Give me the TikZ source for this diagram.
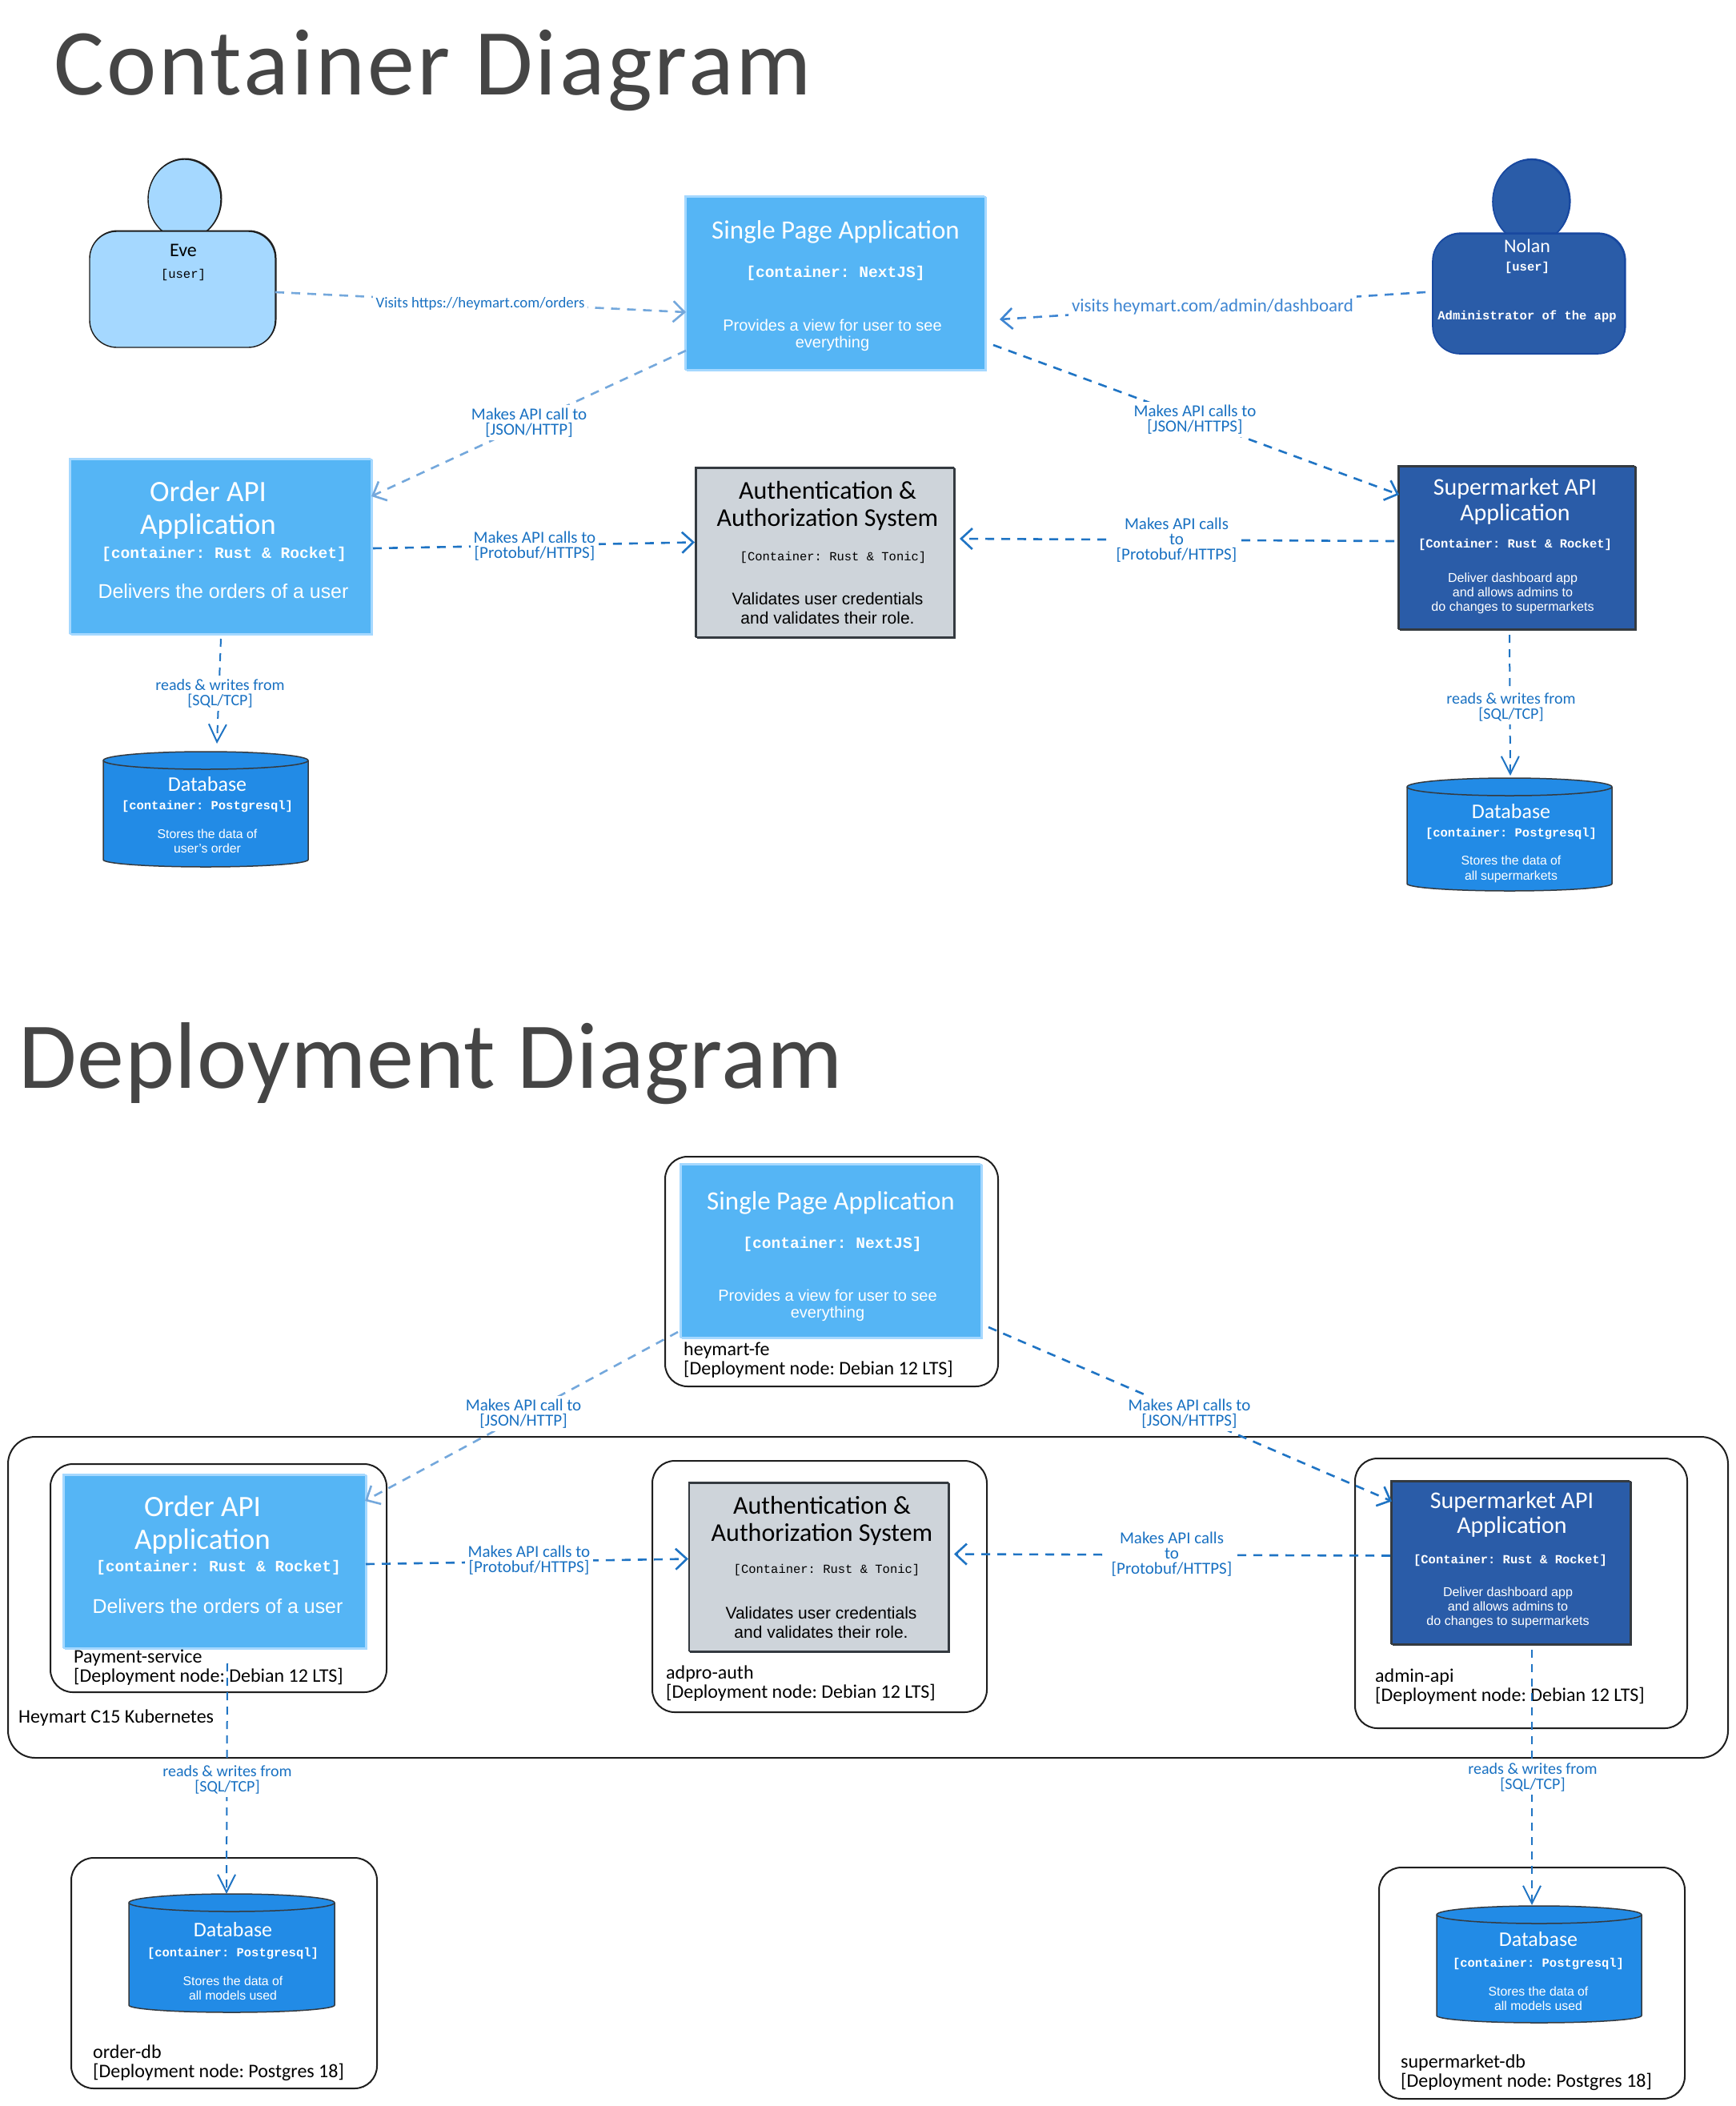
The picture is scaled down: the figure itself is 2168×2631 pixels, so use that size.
\documentclass[tikz,border=0pt]{standalone}
\usepackage{fontspec}
\usetikzlibrary{arrows.meta,shapes.geometric}
\setmainfont{Liberation Sans}
\newfontfamily\handf{Carlito}
\newfontfamily\monof{Liberation Mono}
\frenchspacing
\definecolor{evefill}{HTML}{A5D8FF}
\definecolor{spafill}{HTML}{55B5F5}
\definecolor{spaedge}{HTML}{A5D8FF}
\definecolor{authfill}{HTML}{CED4DA}
\definecolor{darkedge}{HTML}{343A40}
\definecolor{superfill}{HTML}{2A5CA8}
\definecolor{nolanedge}{HTML}{1848A0}
\definecolor{dbfill}{HTML}{228BE6}
\definecolor{inkc}{HTML}{1E1E1E}
\definecolor{titlec}{HTML}{454545}
\definecolor{lblc}{HTML}{1971C2}
\definecolor{arrowa}{HTML}{74A8DC}
\definecolor{arrowb}{HTML}{3F86D2}
\definecolor{arrowc}{HTML}{1F74C4}
\newcommand\fsz[1]{\fontsize{#1}{#1}\selectfont}
\newcommand\bx[6]{%
  \pgfmathsetmacro\bX{(#3+#5)/2}\pgfmathsetmacro\bY{(#4+#6)/2}%
  \pgfmathsetmacro\bW{#5-#3}\pgfmathsetmacro\bH{#6-#4}%
  \node[#2,minimum width=\bW pt,minimum height=\bH pt] (#1) at (\bX,\bY) {};}
\newcommand\tx[5]{\node[#4] (#1) at (#2,#3) {#5};}
% cylinder: invisible named node plus outline
\newcommand\dbx[5]{%
  \bx{#1}{plainbox}{#2}{#3}{#4}{#5}%
  \pgfmathsetmacro\bR{(#4-#2)/2}%
  \draw[dbshape] ([yshift=-11pt]#1.north west) arc[x radius=\bR pt,y radius=11pt,start angle=180,end angle=0]
    -- ([yshift=9pt]#1.south east) arc[x radius=\bR pt,y radius=9pt,start angle=0,end angle=-180] -- cycle;
  \draw[darkedge,line width=1.5pt] ([yshift=-11pt]#1.north west) arc[x radius=\bR pt,y radius=11pt,start angle=180,end angle=360];}
\tikzset{
  plainbox/.style={rectangle,inner sep=0pt,outer sep=0pt},
  wob/.style={preaction={draw,transform canvas={xshift=1.2pt,yshift=-1pt}},preaction={draw,transform canvas={xshift=-1.2pt,yshift=1pt}}},
  spabox/.style={plainbox,fill=spafill,draw=spaedge,line width=1.1pt,wob},
  authbox/.style={plainbox,fill=authfill,draw=darkedge,line width=1.4pt,wob},
  superbox/.style={plainbox,fill=superfill,draw=darkedge,line width=1.1pt,wob},
  nodebox/.style={plainbox,draw=inkc,line width=2pt,rounded corners=28pt},
  outerbox/.style={plainbox,draw=inkc,line width=2pt,rounded corners=34pt},
  evebody/.style={plainbox,fill=evefill,draw=inkc,line width=1.4pt,rounded corners=34pt,wobb},
  nolanbody/.style={plainbox,fill=superfill,draw=nolanedge,line width=1.6pt,rounded corners=34pt,wobb},
  wobb/.style={preaction={draw,transform canvas={xshift=.8pt,yshift=.8pt}}},
  evehead/.style={ellipse,inner sep=0pt,outer sep=0pt,fill=evefill,draw=inkc,line width=1.4pt,wobb},
  nolanhead/.style={ellipse,inner sep=0pt,outer sep=0pt,fill=superfill,draw=nolanedge,line width=1.6pt,wobb},
  dbshape/.style={fill=dbfill,draw=darkedge,line width=1.5pt},
  flow/.style={-{Straight Barb[length=14pt,width=26pt,line width=2.6pt]},line width=2.6pt,dash pattern=on 11pt off 9pt},
  thinflow/.style={-{Straight Barb[length=22pt,width=22pt,line width=2pt]},line width=2pt,dash pattern=on 10pt off 8pt},
  lbl/.style={font=\handf\fontsize{21}{19}\selectfont,text=lblc,align=center,fill=white,inner sep=4pt},
  rlbl/.style={lbl,font=\handf\fontsize{20}{19}\selectfont},
  title/.style={text=titlec,anchor=west,inner sep=0pt},
  white text/.style={text=white,align=center,inner sep=0pt},
  black text/.style={text=black,align=center,inner sep=0pt},
  dep/.style={font=\handf\fontsize{24}{24}\selectfont,text=black,anchor=west,inner sep=0pt},
}
\begin{document}
\begin{tikzpicture}[x=1pt,y=-1pt]
\useasboundingbox (0,0) rectangle (2168,2631);
\fill[white] (0,0) rectangle (2168,2631);

% ---------- titles
\tx{titleA}{67}{88}{title,font=\handf\addfontfeature{LetterSpace=2.8}\fontsize{118}{118}\selectfont}{Container Diagram}
\tx{titleB}{23}{1329}{title,font=\handf\addfontfeature{LetterSpace=0.7}\fontsize{118}{118}\selectfont}{Deployment Diagram}

% ---------- container diagram
\node[evehead,minimum width=91pt,minimum height=100pt] (evehd) at (230.5,249) {};
\bx{eve}{evebody}{112}{289}{344}{434}
\node[nolanhead,minimum width=96pt,minimum height=105pt] (nolanhd) at (1913,252) {};
\bx{nolan}{nolanbody}{1790}{292}{2030}{442}
\bx{spa}{spabox}{857}{246}{1231}{462}
\bx{order}{spabox}{88}{574}{464}{792}
\bx{auth}{authbox}{870}{585}{1192}{796}
\bx{super}{superbox}{1748}{583}{2043}{786}
\dbx{dba}{129}{939}{385}{1083}
\dbx{dbb}{1758}{972}{2014}{1113}

\tx{eveN}{229}{313}{black text,font=\handf\fsz{24}}{Eve}
\tx{eveT}{229}{343}{black text,font=\monof\fsz{15.5}}{[user]}
\tx{nolN}{1908}{307}{white text,font=\handf\fsz{24}}{Nolan}
\tx{nolT}{1908}{334}{white text,font=\monof\bfseries\fsz{15.5}}{[user]}
\tx{nolD}{1908}{395}{white text,font=\monof\bfseries\fsz{15.5}}{Administrator of the app}

\tx{spaN}{1044}{290}{white text,font=\handf\fsz{33}}{Single Page Application}
\tx{spaT}{1044}{341}{white text,font=\monof\bfseries\fsz{19.6}}{[container: NextJS]}
\tx{spaD}{1040}{419}{white text,font=\fontsize{20}{21.5}\selectfont}{Provides a view for user to see\\everything}

\tx{ordN}{260}{637}{white text,font=\handf\fontsize{37}{40.5}\selectfont}{Order API\\Application}
\tx{ordT}{280}{692}{white text,font=\monof\bfseries\fsz{19.6}}{[container: Rust \& Rocket]}
\tx{ordD}{279}{739}{white text,font=\fsz{24.9}}{Delivers the orders of a user}

\tx{autN}{1034}{632}{black text,font=\handf\fontsize{32}{33.5}\selectfont}{Authentication \&\\Authorization System}
\tx{autT}{1041}{696}{black text,font=\monof\fsz{15.5}}{[Container: Rust \& Tonic]}
\tx{autD}{1034}{760}{black text,font=\fontsize{21}{24}\selectfont}{Validates user credentials\\and validates their role.}

\tx{supN}{1893}{626}{white text,font=\handf\fontsize{30}{32}\selectfont}{Supermarket API\\Application}
\tx{supT}{1893}{680}{white text,font=\monof\bfseries\fsz{15.5}}{[Container: Rust \& Rocket]}
\tx{supD}{1890}{741}{white text,font=\fontsize{16.1}{18}\selectfont}{Deliver dashboard app\\and allows admins to\\do changes to supermarkets}

\tx{dbaN}{259}{980}{white text,font=\handf\fsz{26}}{Database}
\tx{dbaT}{259}{1008}{white text,font=\monof\bfseries\fsz{15.5}}{[container: Postgresql]}
\tx{dbaD}{259}{1051}{white text,font=\fontsize{15.8}{18.5}\selectfont}{Stores the data of\\user's order}
\tx{dbbN}{1888}{1014}{white text,font=\handf\fsz{26}}{Database}
\tx{dbbT}{1888}{1042}{white text,font=\monof\bfseries\fsz{15.5}}{[container: Postgresql]}
\tx{dbbD}{1888}{1086}{white text,font=\fontsize{15.8}{18.5}\selectfont}{Stores the data of\\all supermarkets}

\draw[flow,arrowa] ([yshift=-3.5pt]eve.east) -- ([yshift=-36pt]spa.west);
\draw[flow,arrowa] ([yshift=-84pt]spa.west) -- ([yshift=63pt]order.east);
\draw[flow,arrowc] ([xshift=2pt,yshift=-2pt]order.east) -- ([xshift=-2pt,yshift=13pt]auth.west);
\draw[flow,arrowb] ([xshift=-9pt,yshift=2pt]nolan.west) -- ([xshift=18pt,yshift=-45pt]spa.east);
\draw[flow,arrowc] ([xshift=10pt,yshift=-77pt]spa.east) -- ([yshift=66.5pt]super.west);
\draw[flow,arrowc] ([xshift=-6pt,yshift=8.5pt]super.west) -- ([xshift=7pt,yshift=17.5pt]auth.east);
\draw[thinflow,arrowc] ([yshift=-6pt]order.south) -- ([xshift=14pt,yshift=10pt]dba.north);
\draw[thinflow,arrowc] ([xshift=-9.5pt,yshift=-7pt]super.south) -- ([xshift=1pt,yshift=3pt]dbb.north);

\tx{l1}{600}{379}{lbl,font=\handf\fsz{18.8}}{Visits https://heymart.com/orders}
\tx{l2}{661}{528}{lbl}{Makes API call to\\{}[JSON/HTTP]}
\tx{l3}{668}{682.5}{lbl}{Makes API calls to\\{}[Protobuf/HTTPS]}
\tx{l4}{1515}{383}{lbl,text=arrowb,font=\handf\fsz{23}}{visits heymart.com/admin/dashboard}
\tx{l5}{1493}{524}{lbl}{Makes API calls to\\{}[JSON/HTTPS]}
\tx{l6}{1470}{675}{lbl}{Makes API calls\\to\\{}[Protobuf/HTTPS]}
\tx{l7}{275}{866}{rlbl}{reads \& writes from\\{}[SQL/TCP]}
\tx{l8}{1888}{883}{rlbl}{reads \& writes from\\{}[SQL/TCP]}

% ---------- deployment diagram
\bx{kube}{outerbox}{10}{1795}{2159}{2196}
\bx{feNode}{nodebox}{831}{1445}{1247}{1732}
\bx{payNode}{nodebox}{63}{1829}{483}{2114}
\bx{authNode}{nodebox}{815}{1825}{1233}{2139}
\bx{adminNode}{nodebox}{1693}{1822}{2108}{2159}
\bx{ordbNode}{nodebox}{89}{2321}{471}{2609}
\bx{supdbNode}{nodebox}{1723}{2333}{2105}{2622}

\bx{spaB}{spabox}{851}{1455}{1226}{1671}
\bx{orderB}{spabox}{80}{1843}{457}{2059}
\bx{authB}{authbox}{861.5}{1853}{1185}{2063}
\bx{superB}{superbox}{1739}{1851}{2037}{2054}
\dbx{dbc}{161}{2366}{418}{2514}
\dbx{dbd}{1795}{2381}{2051}{2527}

\tx{spbN}{1038}{1503}{white text,font=\handf\fsz{33}}{Single Page Application}
\tx{spbT}{1040}{1554}{white text,font=\monof\bfseries\fsz{19.6}}{[container: NextJS]}
\tx{spbD}{1034}{1631}{white text,font=\fontsize{20}{21.5}\selectfont}{Provides a view for user to see\\everything}
\tx{orbN}{253}{1905}{white text,font=\handf\fontsize{37}{40.5}\selectfont}{Order API\\Application}
\tx{orbT}{273}{1958}{white text,font=\monof\bfseries\fsz{19.6}}{[container: Rust \& Rocket]}
\tx{orbD}{272}{2007}{white text,font=\fsz{24.9}}{Delivers the orders of a user}
\tx{aubN}{1027}{1900}{black text,font=\handf\fontsize{32}{33.5}\selectfont}{Authentication \&\\Authorization System}
\tx{aubT}{1033}{1961}{black text,font=\monof\fsz{15.5}}{[Container: Rust \& Tonic]}
\tx{aubD}{1026}{2027}{black text,font=\fontsize{21}{24}\selectfont}{Validates user credentials\\and validates their role.}
\tx{subN}{1889}{1892}{white text,font=\handf\fontsize{30}{31}\selectfont}{Supermarket API\\Application}
\tx{subT}{1887}{1949}{white text,font=\monof\bfseries\fsz{15.5}}{[Container: Rust \& Rocket]}
\tx{subD}{1884}{2008}{white text,font=\fontsize{16.1}{18}\selectfont}{Deliver dashboard app\\and allows admins to\\do changes to supermarkets}
\tx{dbcN}{291}{2411}{white text,font=\handf\fsz{26}}{Database}
\tx{dbcT}{291}{2440}{white text,font=\monof\bfseries\fsz{15.5}}{[container: Postgresql]}
\tx{dbcD}{291}{2484}{white text,font=\fontsize{15.8}{18.5}\selectfont}{Stores the data of\\all models used}
\tx{dbdN}{1922}{2423}{white text,font=\handf\fsz{26}}{Database}
\tx{dbdT}{1922}{2453}{white text,font=\monof\bfseries\fsz{15.5}}{[container: Postgresql]}
\tx{dbdD}{1922}{2497}{white text,font=\fontsize{15.8}{18.5}\selectfont}{Stores the data of\\all models used}

\node[dep,align=left] (feL) at (854,1699) {heymart-fe\\{}[Deployment node: Debian 12 LTS]};
\node[dep,align=left] (payL) at (92,2083) {Payment-service\\{}[Deployment node: Debian 12 LTS]};
\node[dep,align=left] (autL) at (832,2103) {adpro-auth\\{}[Deployment node: Debian 12 LTS]};
\node[dep,align=left] (admL) at (1718,2107) {admin-api\\{}[Deployment node: Debian 12 LTS]};
\node[dep,align=left] (odbL) at (116,2577) {order-db\\{}[Deployment node: Postgres 18]};
\node[dep,align=left] (sdbL) at (1750,2589) {supermarket-db\\{}[Deployment node: Postgres 18]};
\node[dep] (kubL) at (23,2146) {Heymart C15 Kubernetes};

\draw[flow,arrowa] ([xshift=-4pt,yshift=-101pt]spaB.west) -- ([xshift=-1pt,yshift=76pt]orderB.east);
\draw[flow,arrowc] ([xshift=9pt,yshift=-95pt]spaB.east) -- ([yshift=77pt]superB.west);
\draw[flow,arrowc] ([yshift=-3pt]orderB.east) -- ([xshift=-1.5pt,yshift=10.5pt]authB.west);
\draw[flow,arrowc] ([xshift=-2pt,yshift=9pt]superB.west) -- ([xshift=7pt,yshift=16.5pt]authB.east);
\draw[thinflow,arrowc] ([xshift=15.5pt,yshift=-19pt]orderB.south) -- ([xshift=-6.5pt]dbc.north);
\draw[thinflow,arrowc] ([xshift=26pt,yshift=-7pt]superB.south) -- ([xshift=-9pt,yshift=1pt]dbd.north);

\tx{m1}{654}{1766}{lbl}{Makes API call to\\{}[JSON/HTTP]}
\tx{m2}{1486}{1766}{lbl}{Makes API calls to\\{}[JSON/HTTPS]}
\tx{m3}{661}{1949}{lbl}{Makes API calls to\\{}[Protobuf/HTTPS]}
\tx{m4}{1464}{1942}{lbl}{Makes API calls\\to\\{}[Protobuf/HTTPS]}
\tx{m5}{284}{2223}{rlbl}{reads \& writes from\\{}[SQL/TCP]}
\tx{m6}{1915}{2220}{rlbl}{reads \& writes from\\{}[SQL/TCP]}
\end{tikzpicture}
\end{document}
